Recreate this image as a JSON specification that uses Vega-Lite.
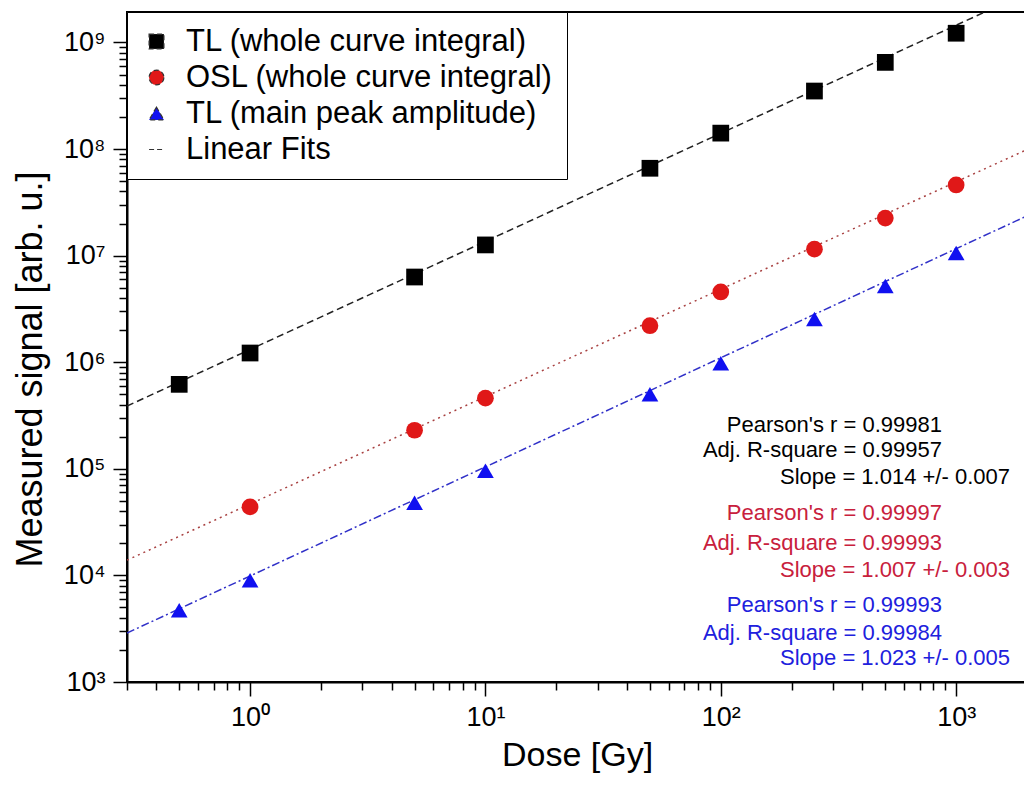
{
  "$schema": "https://vega.github.io/schema/vega-lite/v6.json",
  "autosize": "none",
  "width": 900,
  "height": 670,
  "padding": {"left": 127, "top": 12, "right": 0, "bottom": 107},
  "background": "white",
  "config": {
    "font": "Liberation Sans",
    "view": {"stroke": "black", "strokeWidth": 2},
    "axis": {"grid": false},
    "legend": {
      "orient": "top-left",
      "offset": 0,
      "strokeColor": "black",
      "fillColor": "white",
      "padding": 14,
      "labelFontSize": 31,
      "labelColor": "black",
      "labelLimit": 600,
      "labelOffset": 14,
      "symbolSize": 220,
      "rowPadding": 4
    }
  },
  "datasets": {
    "points": [
      {"series": "TL (whole curve integral)", "dose": 0.5, "signal": 620000},
      {"series": "TL (whole curve integral)", "dose": 1, "signal": 1220000},
      {"series": "TL (whole curve integral)", "dose": 5, "signal": 6300000},
      {"series": "TL (whole curve integral)", "dose": 10, "signal": 12600000},
      {"series": "TL (whole curve integral)", "dose": 50, "signal": 66000000},
      {"series": "TL (whole curve integral)", "dose": 100, "signal": 141000000},
      {"series": "TL (whole curve integral)", "dose": 250, "signal": 350000000},
      {"series": "TL (whole curve integral)", "dose": 500, "signal": 650000000},
      {"series": "TL (whole curve integral)", "dose": 1000, "signal": 1220000000},
      {"series": "OSL (whole curve integral)", "dose": 1, "signal": 44000},
      {"series": "OSL (whole curve integral)", "dose": 5, "signal": 230000},
      {"series": "OSL (whole curve integral)", "dose": 10, "signal": 460000},
      {"series": "OSL (whole curve integral)", "dose": 50, "signal": 2200000},
      {"series": "OSL (whole curve integral)", "dose": 100, "signal": 4560000},
      {"series": "OSL (whole curve integral)", "dose": 250, "signal": 11500000},
      {"series": "OSL (whole curve integral)", "dose": 500, "signal": 22500000},
      {"series": "OSL (whole curve integral)", "dose": 1000, "signal": 46000000},
      {"series": "TL (main peak amplitude)", "dose": 0.5, "signal": 4700},
      {"series": "TL (main peak amplitude)", "dose": 1, "signal": 9000},
      {"series": "TL (main peak amplitude)", "dose": 5, "signal": 48000},
      {"series": "TL (main peak amplitude)", "dose": 10, "signal": 96000},
      {"series": "TL (main peak amplitude)", "dose": 50, "signal": 500000},
      {"series": "TL (main peak amplitude)", "dose": 100, "signal": 980000},
      {"series": "TL (main peak amplitude)", "dose": 250, "signal": 2550000},
      {"series": "TL (main peak amplitude)", "dose": 500, "signal": 5200000},
      {"series": "TL (main peak amplitude)", "dose": 1000, "signal": 10600000}
    ],
    "fits": [
      {"series": "TL (whole curve integral)", "dose": 0.3, "signal": 388000},
      {"series": "TL (whole curve integral)", "dose": 2000, "signal": 2930000000},
      {"series": "OSL (whole curve integral)", "dose": 0.3, "signal": 13900},
      {"series": "OSL (whole curve integral)", "dose": 2000, "signal": 98900000},
      {"series": "TL (main peak amplitude)", "dose": 0.3, "signal": 2880},
      {"series": "TL (main peak amplitude)", "dose": 2000, "signal": 23600000}
    ],
    "stats": [
      {"series": "TL (whole curve integral)", "label": "Pearson's r = 0.99981", "dose": 871, "signal": 258000},
      {"series": "TL (whole curve integral)", "label": "Adj. R-square = 0.99957", "dose": 871, "signal": 150000},
      {"series": "TL (whole curve integral)", "label": "Slope = 1.014 +/- 0.007", "dose": 1693, "signal": 83800},
      {"series": "OSL (whole curve integral)", "label": "Pearson's r = 0.99997", "dose": 871, "signal": 38500},
      {"series": "OSL (whole curve integral)", "label": "Adj. R-square = 0.99993", "dose": 871, "signal": 20100},
      {"series": "OSL (whole curve integral)", "label": "Slope = 1.007 +/- 0.003", "dose": 1693, "signal": 11200},
      {"series": "TL (main peak amplitude)", "label": "Pearson's r = 0.99993", "dose": 871, "signal": 5280},
      {"series": "TL (main peak amplitude)", "label": "Adj. R-square = 0.99984", "dose": 871, "signal": 2880},
      {"series": "TL (main peak amplitude)", "label": "Slope = 1.023 +/- 0.005", "dose": 1693, "signal": 1680}
    ]
  },
  "encoding": {
    "x": {
      "field": "dose",
      "type": "quantitative",
      "scale": {"type": "log", "domain": [0.3, 2000], "nice": false},
      "axis": {
        "title": "Dose [Gy]",
        "titleFontSize": 34,
        "titleFontWeight": "normal",
        "titleColor": "black",
        "titlePadding": 8,
        "values": [0.3, 0.4, 0.5, 0.6, 0.7, 0.8, 0.9, 1, 2, 3, 4, 5, 6, 7, 8, 9, 10, 20, 30, 40, 50, 60, 70, 80, 90, 100, 200, 300, 400, 500, 600, 700, 800, 900, 1000, 2000],
        "labelExpr": "abs(log(datum.value)/LN10 - round(log(datum.value)/LN10)) < 0.000001 ? '10' + ['⁰','¹','²','³','⁴','⁵','⁶','⁷','⁸','⁹'][round(log(datum.value)/LN10)] : ''",
        "labelOverlap": false,
        "labelFlush": false,
        "labelFontSize": 27,
        "labelColor": "black",
        "labelPadding": 8,
        "domainColor": "black",
        "domainWidth": 2,
        "tickColor": "black",
        "tickWidth": 1.5,
        "tickSize": {"condition": {"test": "abs(log(datum.value)/LN10 - round(log(datum.value)/LN10)) < 0.000001", "value": 14}, "value": 8}
      }
    },
    "y": {
      "field": "signal",
      "type": "quantitative",
      "scale": {"type": "log", "domain": [1000, 1930000000], "nice": false},
      "axis": {
        "title": "Measured signal [arb. u.]",
        "titleFontSize": 36,
        "titleFontWeight": "normal",
        "titleColor": "black",
        "titlePadding": 14,
        "titleY": 357,
        "values": [1000, 2000, 3000, 4000, 5000, 6000, 7000, 8000, 9000, 10000, 20000, 30000, 40000, 50000, 60000, 70000, 80000, 90000, 100000, 200000, 300000, 400000, 500000, 600000, 700000, 800000, 900000, 1000000, 2000000, 3000000, 4000000, 5000000, 6000000, 7000000, 8000000, 9000000, 10000000, 20000000, 30000000, 40000000, 50000000, 60000000, 70000000, 80000000, 90000000, 100000000, 200000000, 300000000, 400000000, 500000000, 600000000, 700000000, 800000000, 900000000, 1000000000],
        "labelExpr": "abs(log(datum.value)/LN10 - round(log(datum.value)/LN10)) < 0.000001 ? '10' + ['⁰','¹','²','³','⁴','⁵','⁶','⁷','⁸','⁹'][round(log(datum.value)/LN10)] : ''",
        "labelOverlap": false,
        "labelFlush": false,
        "labelFontSize": 27,
        "labelColor": "black",
        "labelPadding": 8,
        "domainColor": "black",
        "domainWidth": 2,
        "tickColor": "black",
        "tickWidth": 1.5,
        "tickSize": {"condition": {"test": "abs(log(datum.value)/LN10 - round(log(datum.value)/LN10)) < 0.000001", "value": 14}, "value": 8}
      }
    }
  },
  "layer": [
    {
      "data": {"name": "fits"},
      "mark": {"type": "line", "strokeWidth": 1.5, "clip": true},
      "encoding": {
        "stroke": {
          "field": "series",
          "type": "nominal",
          "scale": {"domain": ["TL (whole curve integral)", "OSL (whole curve integral)", "TL (main peak amplitude)"], "range": ["#222222", "#a84040", "#3030c8"]},
          "legend": null
        },
        "strokeDash": {
          "field": "series",
          "type": "nominal",
          "scale": {"domain": ["TL (whole curve integral)", "OSL (whole curve integral)", "TL (main peak amplitude)"], "range": [[7, 4], [2, 4], [8, 3, 2, 3]]},
          "legend": null
        }
      }
    },
    {
      "data": {"name": "points"},
      "mark": {"type": "point", "filled": true, "size": 280, "opacity": 1},
      "encoding": {
        "color": {
          "field": "series",
          "type": "nominal",
          "scale": {"domain": ["TL (whole curve integral)", "OSL (whole curve integral)", "TL (main peak amplitude)", "Linear Fits"], "range": ["#000000", "#e01818", "#1010f0", "#222222"]},
          "legend": {
            "title": null,
            "symbolStrokeColor": "#333333",
            "symbolStrokeWidth": 1.2,
            "symbolDash": [5, 3]
          }
        },
        "shape": {
          "field": "series",
          "type": "nominal",
          "scale": {"domain": ["TL (whole curve integral)", "OSL (whole curve integral)", "TL (main peak amplitude)", "Linear Fits"], "range": ["square", "circle", "triangle-up", "stroke"]},
          "legend": {
            "title": null,
            "symbolStrokeColor": "#333333",
            "symbolStrokeWidth": 1.2,
            "symbolDash": [5, 3]
          }
        }
      }
    },
    {
      "data": {"name": "stats"},
      "mark": {"type": "text", "align": "right", "baseline": "middle", "fontSize": 22},
      "encoding": {
        "text": {"field": "label", "type": "nominal"},
        "fill": {
          "field": "series",
          "type": "nominal",
          "scale": {"domain": ["TL (whole curve integral)", "OSL (whole curve integral)", "TL (main peak amplitude)"], "range": ["#000000", "#c8203c", "#2020dd"]},
          "legend": null
        }
      }
    }
  ]
}
